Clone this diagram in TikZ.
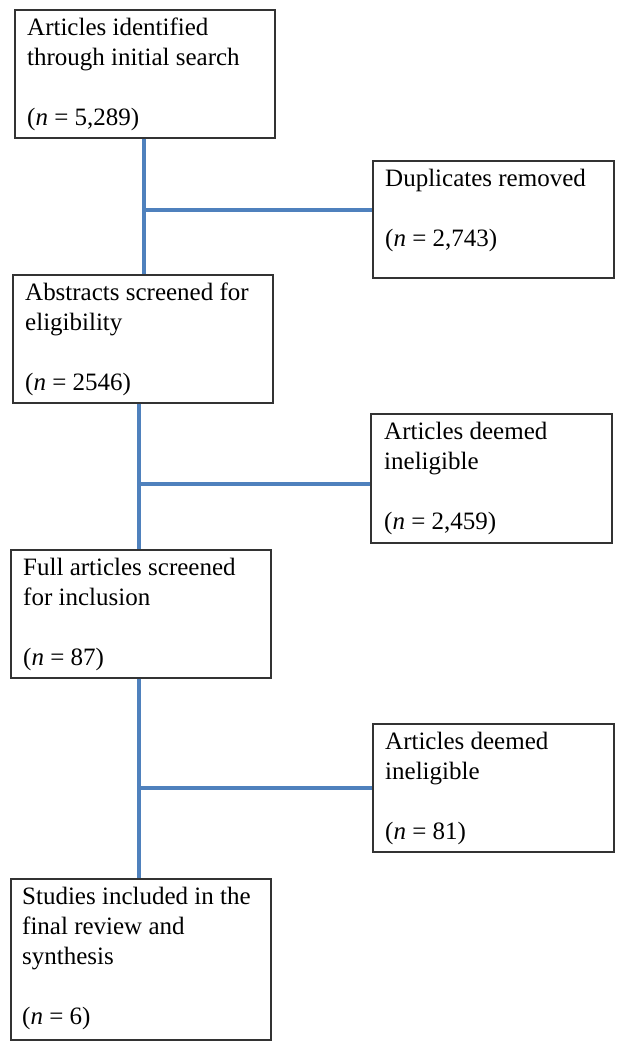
\documentclass[tikz,border=0pt]{standalone}
\usepackage{fontspec}
\setmainfont{Liberation Serif}
\definecolor{linkblue}{HTML}{4F81BD}
\definecolor{boxgray}{HTML}{333333}
\begin{document}
\begin{tikzpicture}[x=1pt,y=-1pt,
  box/.style={draw=boxgray, line width=1.5pt, rectangle, anchor=north west, inner sep=0pt},
  txt/.style={anchor=north west, inner sep=0pt, align=left, font=\fontsize{25}{30}\selectfont},
  conn/.style={draw=linkblue, line width=4.5pt}]
\useasboundingbox (0,0) rectangle (624,1050);
% boxes
\node[box, minimum width=260pt, minimum height=128pt] (b1) at (14,9) {};
\node[box, minimum width=241pt, minimum height=117pt] (d1) at (372,160) {};
\node[box, minimum width=260pt, minimum height=128pt] (b2) at (12,274) {};
\node[box, minimum width=241pt, minimum height=129pt] (e1) at (370,413) {};
\node[box, minimum width=260pt, minimum height=128pt] (b3) at (10,549) {};
\node[box, minimum width=241pt, minimum height=128pt] (e2) at (372,723) {};
\node[box, minimum width=260pt, minimum height=161pt] (b4) at (10,878) {};
% texts
\node[txt] (t1) at (27,18) {Articles identified\\through initial search\\~\\(\textit{n} = 5,289)};
\node[txt] (td1) at (385,169) {Duplicates removed\\~\\(\textit{n} = 2,743)};
\node[txt] (t2) at (25,283) {Abstracts screened for\\eligibility\\~\\(\textit{n} = 2546)};
\node[txt] (te1) at (384,422) {Articles deemed\\ineligible\\~\\(\textit{n} = 2,459)};
\node[txt] (t3) at (23,558) {Full articles screened\\for inclusion\\~\\(\textit{n} = 87)};
\node[txt] (te2) at (385,732) {Articles deemed\\ineligible\\~\\(\textit{n} = 81)};
\node[txt] (t4) at (22,887) {Studies included in the\\final review and\\synthesis\\~\\(\textit{n} = 6)};
% junctions
\coordinate (j1) at (144,210);
\coordinate (j2) at (139,484);
\coordinate (j3) at (139,788);
% connectors
\draw[conn] (b1.south -| j1) -- (b2.north -| j1);
\draw[conn] (j1) -- (j1 -| d1.west);
\draw[conn] (b2.south -| j2) -- (b3.north -| j2);
\draw[conn] (j2) -- (j2 -| e1.west);
\draw[conn] (b3.south -| j3) -- (b4.north -| j3);
\draw[conn] (j3) -- (j3 -| e2.west);
\end{tikzpicture}
\end{document}
